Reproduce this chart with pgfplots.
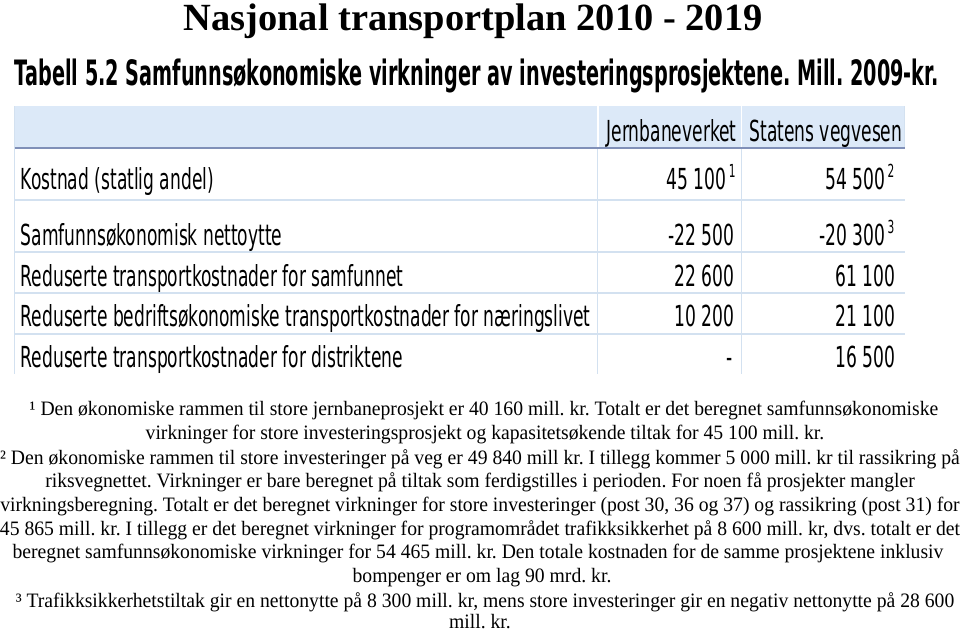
\documentclass[border=0pt]{standalone}
\usepackage{pgfplots}
\pgfplotsset{compat=1.18}
\usepackage{pgfplotstable}
\usepackage{fontspec}
\setmainfont{Liberation Serif}
\newfontfamily\titlefont{Liberation Serif}
\newfontfamily\subfont[FakeStretch=0.55]{DejaVu Sans}
\newfontfamily\tabfont[FakeStretch=0.59]{DejaVu Sans}
\newfontfamily\notefont[FakeStretch=0.96]{Liberation Serif}
\frenchspacing

\definecolor{hdrfill}{HTML}{DCE9F8}
\definecolor{hdrline}{HTML}{8090B8}
\definecolor{rowline}{HTML}{D3E1F0}

% value cells: x = right edge, y = baseline (picture pixels, y downwards)
\pgfplotstableread[col sep=comma]{
x,y,label
727,190,45 100
735,246,-22 500
735,287,22 600
735,327,10 200
733,368,-
886,190,54 500
886,246,-20 300
896,287,61 100
896,327,21 100
896,368,16 500
}\valtab

\begin{document}
\frenchspacing
\begin{tikzpicture}
\begin{axis}[
  width=960pt, height=632pt, scale only axis,
  xmin=0, xmax=960, ymin=0, ymax=632, y dir=reverse,
  hide axis, clip=false,
]
\path (axis cs:0,0) rectangle (axis cs:960,632);

% title and table caption
\node[anchor=base, inner sep=0pt, font=\titlefont\bfseries\fontsize{38.5}{38.5}\selectfont]
  at (axis cs:473,31) {Nasjonal transportplan 2010 - 2019};
\node[anchor=base west, inner sep=0pt, font=\subfont\bfseries\fontsize{35}{35}\selectfont]
  at (axis cs:14,86) {Tabell 5.2 Samfunnsøkonomiske virkninger av investeringsprosjektene. Mill. 2009-kr.};

% table frame
\fill[hdrfill] (axis cs:14,106) rectangle (axis cs:905,148);
\draw[white, line width=1.5pt] (axis cs:598,106) -- (axis cs:598,148);
\draw[white, line width=1.5pt] (axis cs:742,106) -- (axis cs:742,148);
\draw[rowline, line width=1.5pt] (axis cs:14,106) -- (axis cs:14,374);
\draw[rowline, line width=1.2pt] (axis cs:598,149) -- (axis cs:598,374);
\draw[rowline, line width=1.2pt] (axis cs:742,149) -- (axis cs:742,374);
\draw[rowline, line width=1.2pt] (axis cs:905,106) -- (axis cs:905,148);
\draw[rowline, line width=2pt] (axis cs:14,200) -- (axis cs:905,200);
\draw[rowline, line width=2pt] (axis cs:14,252) -- (axis cs:905,252);
\draw[rowline, line width=2pt] (axis cs:14,293) -- (axis cs:905,293);
\draw[rowline, line width=2pt] (axis cs:14,334) -- (axis cs:905,334);
\draw[hdrline, line width=2.5pt] (axis cs:14,148) -- (axis cs:905,148);

% header
\node[anchor=base east, inner sep=0pt, font=\tabfont\fontsize{29}{29}\selectfont]
  at (axis cs:737,142) {Jernbaneverket};
\node[anchor=base east, inner sep=0pt, font=\tabfont\fontsize{29}{29}\selectfont]
  at (axis cs:903,142) {Statens vegvesen};

% row labels
\begin{scope}[every node/.style={anchor=base west, inner sep=0pt, font=\tabfont\fontsize{29}{29}\selectfont}]
\node at (axis cs:20,190) {Kostnad (statlig andel)};
\node at (axis cs:20,246) {Samfunnsøkonomisk nettoytte};
\node at (axis cs:20,287) {Reduserte transportkostnader for samfunnet};
\node at (axis cs:20,327) {Reduserte bedriftsøkonomiske transportkostnader for næringslivet};
\node at (axis cs:20,368) {Reduserte transportkostnader for distriktene};
\end{scope}

% values
\addplot[draw=none, mark=none, nodes near coords, point meta=explicit symbolic,
  nodes near coords align={anchor=base east},
  every node near coord/.append style={inner sep=0pt, anchor=base east,
    font=\tabfont\fontsize{29}{29}\selectfont}]
  table[x=x, y=y, meta=label] {\valtab};

% footnote marks in the table
\begin{scope}[every node/.style={anchor=base west, inner sep=0pt, font=\tabfont\fontsize{18}{18}\selectfont}]
\node at (axis cs:729,178) {1};
\node at (axis cs:888,178) {2};
\node at (axis cs:888,234) {3};
\end{scope}

% footnotes
\begin{scope}[every node/.style={anchor=base, inner sep=0pt, font=\notefont\fontsize{20.5}{20.5}\selectfont}]
\node at (axis cs:484,416) {¹ Den økonomiske rammen til store jernbaneprosjekt er 40 160 mill. kr. Totalt er det beregnet samfunnsøkonomiske};
\node at (axis cs:485,440) {virkninger for store investeringsprosjekt og kapasitetsøkende tiltak for 45 100 mill. kr.};
\node at (axis cs:480,465) {² Den økonomiske rammen til store investeringer på veg er 49 840 mill kr. I tillegg kommer 5 000 mill. kr til rassikring på};
\node at (axis cs:480,488) {riksvegnettet. Virkninger er bare beregnet på tiltak som ferdigstilles i perioden. For noen få prosjekter mangler};
\node at (axis cs:480,512) {virkningsberegning. Totalt er det beregnet virkninger for store investeringer (post 30, 36 og 37) og rassikring (post 31) for};
\node at (axis cs:480,536) {45 865 mill. kr. I tillegg er det beregnet virkninger for programområdet trafikksikkerhet på 8 600 mill. kr, dvs. totalt er det};
\node at (axis cs:478,559) {beregnet samfunnsøkonomiske virkninger for 54 465 mill. kr. Den totale kostnaden for de samme prosjektene inklusiv};
\node at (axis cs:482,583) {bompenger er om lag 90 mrd. kr.};
\node at (axis cs:485,608) {³ Trafikksikkerhetstiltak gir en nettonytte på 8 300 mill. kr, mens store investeringer gir en negativ nettonytte på 28 600};
\node at (axis cs:480,629) {mill. kr.};
\end{scope}
\end{axis}
\end{tikzpicture}
\end{document}
